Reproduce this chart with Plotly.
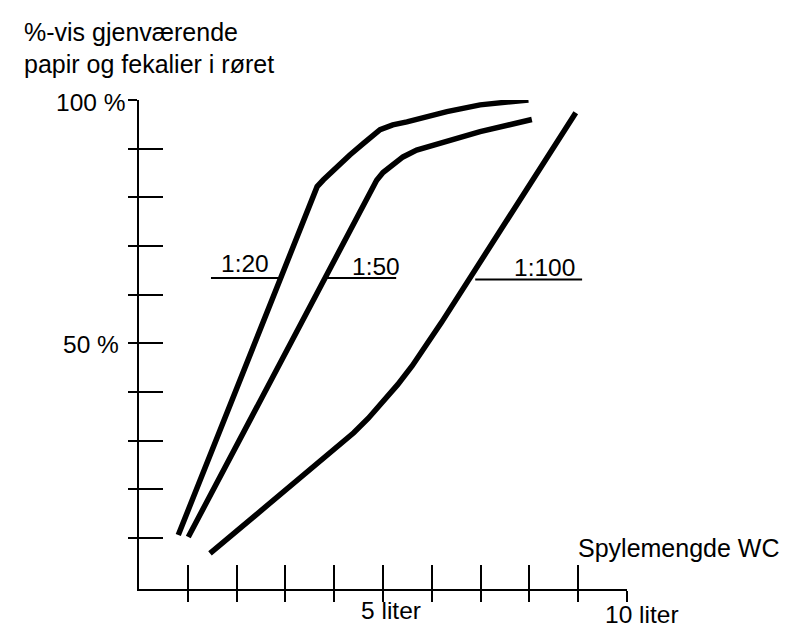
import plotly.graph_objects as go

# ---- data (liters vs % remaining) ----
x_1_20 = [0.805, 3.55, 3.65, 3.78, 4.02, 4.32, 4.60, 4.94, 5.20, 5.49, 6.31, 6.99, 7.98]
y_1_20 = [10.6, 80.4, 82.2, 83.6, 86.0, 88.7, 91.1, 93.9, 94.9, 95.5, 97.6, 99.0, 100.0]

x_1_50 = [1.01, 4.49, 4.67, 4.87, 5.00, 5.14, 5.41, 5.69, 6.31, 6.99, 8.05]
y_1_50 = [10.2, 76.0, 79.4, 83.5, 85.1, 86.3, 88.3, 89.7, 91.4, 93.5, 96.0]

x_1_100 = [1.455, 4.12, 4.40, 4.70, 5.00, 5.30, 5.60, 5.90, 6.20, 8.95]
y_1_100 = [6.8, 29.1, 31.6, 34.6, 37.9, 41.5, 45.4, 49.7, 54.3, 97.4]

# label underlines
lab_names = ["1:20", "1:50", "1:100"]
lab_line_x0 = [1.475, 3.83, 6.89]
lab_line_x1 = [2.87, 5.27, 9.08]
lab_line_y = [63.4, 63.4, 63.1]
lab_text_x = [1.639, 4.324, 7.643]
lab_text_y = [66.3, 65.7, 65.5]

x_ticks = [1, 2, 3, 4, 5, 6, 7, 8, 9, 10]
y_ticks = [10, 20, 30, 40, 50, 60, 70, 80, 90, 100]

X_RANGE = [0, 10]
Y_RANGE = [-0.5, 100]

FONT = "Liberation Sans, Arial, sans-serif"
W, H = 800, 634
ML, MR, MT, MB = 139, 173, 100, 45
PW, PH = W - ML - MR, H - MT - MB

fig = go.Figure()

for x0, x1, yy in zip(lab_line_x0, lab_line_x1, lab_line_y):
    fig.add_trace(go.Scatter(x=[x0, x1], y=[yy, yy], mode="lines",
                             line=dict(color="black", width=2), showlegend=False, hoverinfo="skip"))

for xs, ys in [(x_1_20, y_1_20), (x_1_50, y_1_50), (x_1_100, y_1_100)]:
    fig.add_trace(go.Scatter(x=xs, y=ys, mode="lines",
                             line=dict(color="black", width=5.5),
                             showlegend=False, hoverinfo="skip"))

# empty trace to instantiate the overlay axes (inner tick halves)
fig.add_trace(go.Scatter(x=[], y=[], xaxis="x2", yaxis="y2", showlegend=False))

common = dict(showgrid=False, zeroline=False, showticklabels=False,
              tickcolor="black", tickwidth=2)

fig.update_layout(
    width=W, height=H,
    margin=dict(l=ML, r=MR, t=MT, b=MB),
    paper_bgcolor="white", plot_bgcolor="white",
    font=dict(family=FONT, color="black", size=24),
    xaxis=dict(range=X_RANGE, tickvals=x_ticks, ticks="outside", ticklen=11,
               showline=True, linecolor="black", linewidth=2, **common),
    yaxis=dict(range=Y_RANGE, tickvals=y_ticks, ticks="outside", ticklen=9,
               showline=True, linecolor="black", linewidth=2, **common),
    xaxis2=dict(range=X_RANGE, tickvals=x_ticks, ticks="inside", ticklen=24,
                overlaying="x", anchor="y2", side="bottom", showline=False, **common),
    yaxis2=dict(range=Y_RANGE, tickvals=y_ticks, ticks="inside", ticklen=24,
                overlaying="y", anchor="x2", side="left", showline=False, **common),
    showlegend=False,
)


def ann_data(text, x, y, xanchor, size=24.5):
    fig.add_annotation(text=text, x=x, y=y, xref="x", yref="y", showarrow=False,
                       xanchor=xanchor, yanchor="middle",
                       font=dict(family=FONT, size=size, color="black"))


def ann_px(text, px, py, xanchor, size=24.5):
    # px, py: pixel anchor (left/right edge, vertical middle) within the figure
    fig.add_annotation(text=text, x=(px - ML) / PW, y=(H - MB - py) / PH,
                       xref="paper", yref="paper", showarrow=False,
                       xanchor=xanchor, yanchor="middle",
                       font=dict(family=FONT, size=size, color="black"))


for name, tx, ty in zip(lab_names, lab_text_x, lab_text_y):
    ann_data(name, tx, ty, "left")

ann_px("%-vis gjenværende", 22, 32, "left", 25)
ann_px("papir og fekalier i røret", 22, 64.5, "left", 25)
ann_px("100 %", 127, 102, "right")
ann_px("50 %", 121, 344, "right")
ann_px("Spylemengde WC", 576, 547.7, "left", 25)
ann_px("5 liter", 359, 610.5, "left")
ann_px("10 liter", 603, 614.5, "left")

fig.write_html("out.html", config={"displayModeBar": False},
               post_script="document.body.style.margin='0';")
